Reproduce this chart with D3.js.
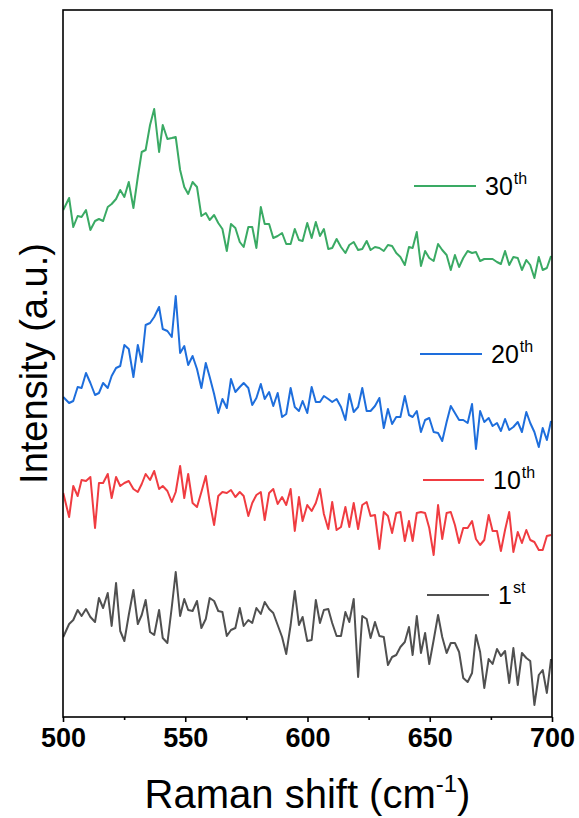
<!DOCTYPE html>
<html>
<head>
<meta charset="utf-8">
<script src="https://cdn.jsdelivr.net/npm/d3@7"></script>
<style>
  body { margin: 0; background: #fff; }
  svg { display: block; font-family: "Liberation Sans", Arial, sans-serif; }
</style>
</head>
<body>
<svg id="chart" width="579" height="818"></svg>
<script>
// Raman shift grid (cm-1), shared by all spectra
var ramanShift = [
  500.1, 502.5, 504.2, 506.0, 507.6, 509.4, 511.2, 513.1, 514.7, 516.4, 518.3, 519.9, 521.7, 523.4, 525.1, 526.9,
  528.8, 530.6, 532.2, 533.8, 535.6, 537.3, 539.3, 540.8, 542.7, 544.5, 546.1, 547.9, 549.6, 551.2, 553.0, 554.8,
  556.6, 558.4, 560.0, 561.8, 563.5, 565.2, 567.0, 568.7, 570.5, 572.3, 573.9, 575.8, 577.4, 579.1, 580.9, 582.5,
  584.3, 586.0, 587.8, 589.6, 591.3, 593.1, 594.8, 596.5, 598.0, 599.9, 601.7, 603.4, 605.1, 606.7, 608.5, 610.1,
  611.9, 613.7, 615.5, 617.1, 618.9, 620.7, 622.4, 624.2, 625.8, 627.6, 629.4, 631.2, 632.9, 634.6, 636.3, 638.0,
  639.8, 641.5, 643.0, 644.7, 646.4, 648.1, 649.8, 651.6, 653.4, 655.1, 656.9, 658.6, 660.3, 662.0, 663.7, 665.5,
  667.3, 668.9, 670.6, 672.3, 674.1, 675.7, 677.5, 679.1, 680.8, 682.5, 684.2, 686.0, 687.7, 689.5, 691.1, 692.8,
  694.6, 696.2, 697.9, 699.6
];

// intensities (a.u., curves already offset)
var cycle1 = [
  80, 93, 97, 107, 101, 108, 100, 95, 119, 109, 124, 91, 134, 86, 76, 102, 127, 93, 102, 117, 85, 82, 107, 79,
  74, 110, 145, 101, 118, 107, 106, 116, 89, 98, 119, 116, 106, 105, 81, 87, 89, 109, 91, 97, 94, 109, 103, 115,
  108, 104, 92, 80, 63, 92, 126, 92,
  100, 76, 77, 117, 94, 107, 108, 94, 81, 81, 105, 95, 118, 40, 101, 98, 79, 95, 81, 80, 52, 60, 62, 70, 75, 90,
  62, 101, 64, 84, 53, 77, 102, 80, 64, 74, 74, 65, 39, 35, 44, 82, 65, 29, 58, 53, 68, 61, 66, 34, 69, 32, 64,
  59, 56, 12, 42, 47, 24, 58
];
var cycle10 = [
  224, 200, 231, 221, 237, 236, 240, 189, 234, 234, 243, 219, 240, 231, 234, 236, 228, 225, 233, 243, 237, 246,
  228, 231, 226, 215, 225, 251, 219, 243, 214, 210, 225, 241, 215, 192, 221, 225, 224, 227, 220, 225, 221, 201,
  214, 222, 225, 197, 224, 228, 213, 220, 212, 228, 186, 220,
  196, 212, 206, 214, 228, 203, 188, 215, 187, 190, 210, 190, 214, 188, 212, 215, 201, 202, 168, 205, 201, 184,
  204, 205, 176, 196, 176, 204, 205, 204, 189, 162, 212, 178, 204, 205, 192, 174, 189, 189, 196, 178, 172, 177,
  202, 186, 186, 166, 187, 205, 165, 185, 174, 187, 177, 175, 167, 167, 181, 182
];
var cycle20 = [
  320, 314, 316, 330, 329, 344, 334, 322, 324, 334, 329, 341, 349, 351, 372, 368, 340, 372, 355, 392, 394, 400,
  410, 388, 386, 380, 421, 364, 371, 352, 361, 348, 329, 354, 340, 323, 304, 318, 309, 338, 325, 330, 334, 329,
  312, 319, 333, 318, 325, 311, 324, 300, 303, 329, 310, 306,
  316, 304, 330, 315, 315, 321, 318, 315, 318, 310, 297, 323, 305, 310, 329, 306, 306, 311, 319, 289, 308, 293,
  300, 300, 321, 302, 300, 306, 285, 297, 299, 285, 284, 276, 295, 311, 304, 297, 297, 294, 313, 268, 306, 295,
  299, 291, 294, 286, 298, 287, 290, 295, 285, 305, 294, 285, 270, 289, 277, 296
];
var cycle30 = [
  507, 519, 490, 501, 500, 507, 487, 496, 498, 496, 510, 513, 518, 527, 520, 535, 509, 540, 565, 567, 592, 608,
  565, 592, 578, 579, 580, 547, 530, 523, 535, 530, 501, 504, 497, 502, 494, 488, 466, 493, 489, 475, 470, 490,
  490, 469, 510, 493, 493, 479, 481, 484, 473, 473, 488, 477,
  476, 494, 479, 495, 481, 488, 468, 469, 478, 470, 464, 472, 475, 467, 468, 476, 467, 470, 469, 466, 472, 471,
  464, 460, 452, 470, 469, 485, 451, 466, 459, 456, 473, 467, 462, 447, 462, 450, 459, 466, 464, 465, 456, 458,
  458, 458, 455, 453, 466, 452, 460, 459, 447, 457, 452, 439, 460, 447, 449, 461
];

var seriesNames = ["1", "10", "20", "30"];
var seriesSup = ["st", "th", "th", "th"];
var seriesValues = [cycle1, cycle10, cycle20, cycle30];

var xTicks = [500, 550, 600, 650, 700];
var xMinorTicks = [525, 575, 625, 675];

var colors = ["#505050", "#f03c41", "#1e6edc", "#3aaa64"];
// legend entries sit next to each curve: [lineStart, lineEnd, y]
var legendPos = [[427, 489, 595], [423, 484, 480], [420, 482, 354], [414, 476, 186]];

var svg = d3.select("#chart"),
    margin = {top: 10, right: 27, bottom: 101, left: 63},
    width = +svg.attr("width") - margin.left - margin.right,
    height = +svg.attr("height") - margin.top - margin.bottom;

var x = d3.scaleLinear().domain([500, 700]).range([0, width]),
    y = d3.scaleLinear().domain([0, 707]).range([height, 0]);

var data = seriesNames.map(function(name, i) {
    return {
        id: name,
        sup: seriesSup[i],
        color: colors[i],
        values: ramanShift.map(function(s, j) { return {shift: s, value: seriesValues[i][j]}; })
    };
});

var line = d3.line()
    .x(function(d) { return x(d.shift); })
    .y(function(d) { return y(d.value); });

var g = svg.append("g")
    .attr("transform", "translate(" + margin.left + "," + margin.top + ")");

g.append("clipPath").attr("id", "plot-clip")
    .append("rect").attr("width", width).attr("height", height);

g.selectAll(".spectrum")
    .data(data)
    .enter().append("path")
    .attr("class", "spectrum")
    .attr("clip-path", "url(#plot-clip)")
    .attr("fill", "none")
    .attr("stroke-width", 2)
    .attr("stroke-linejoin", "round")
    .attr("stroke", function(d) { return d.color; })
    .attr("d", function(d) { return line(d.values); });

// frame
g.append("rect")
    .attr("width", width)
    .attr("height", height)
    .attr("fill", "none")
    .attr("stroke", "#000")
    .attr("stroke-width", 1.6);

var xAxis = g.append("g")
    .attr("class", "axis axis--x")
    .attr("transform", "translate(0," + height + ")")
    .call(d3.axisBottom(x).tickValues(xTicks).tickSize(5).tickSizeOuter(0).tickPadding(6));

xAxis.select(".domain").remove();
xAxis.selectAll("line").attr("stroke", "#000").attr("stroke-width", 1.6);
xAxis.selectAll("text")
    .attr("fill", "#000")
    .style("font-size", "27px")
    .style("font-weight", "bold")
    .style("font-family", "'Liberation Sans', Arial, sans-serif");

g.append("g")
    .attr("transform", "translate(0," + height + ")")
    .call(d3.axisBottom(x).tickValues(xMinorTicks).tickSize(3).tickFormat(""))
    .call(function(a) { a.select(".domain").remove(); })
    .selectAll("line").attr("stroke", "#000").attr("stroke-width", 1.6);

// axis titles
var xTitle = svg.append("text")
    .attr("x", margin.left + width / 2)
    .attr("y", 808)
    .attr("text-anchor", "middle")
    .style("font-size", "40px")
    .attr("fill", "#000");
xTitle.append("tspan").text("Raman shift (cm");
xTitle.append("tspan").attr("dy", -16).style("font-size", "24px").text("-1");
xTitle.append("tspan").attr("dy", 16).text(")");

svg.append("text")
    .attr("transform", "translate(47," + (margin.top + height / 2) + ") rotate(-90)")
    .attr("text-anchor", "middle")
    .style("font-size", "38px")
    .attr("fill", "#000")
    .text("Intensity (a.u.)");

// legend
var legend = svg.append("g").attr("class", "legend");

legend.selectAll("line")
    .data(data)
    .enter().append("line")
    .attr("x1", function(d, i) { return legendPos[i][0]; })
    .attr("x2", function(d, i) { return legendPos[i][1]; })
    .attr("y1", function(d, i) { return legendPos[i][2]; })
    .attr("y2", function(d, i) { return legendPos[i][2]; })
    .attr("stroke", function(d) { return d.color; })
    .attr("stroke-width", 2);

var labels = legend.selectAll("text")
    .data(data)
    .enter().append("text")
    .attr("x", function(d, i) { return legendPos[i][1] + 9; })
    .attr("y", function(d, i) { return legendPos[i][2] + 9; })
    .style("font-size", "25px")
    .attr("fill", "#000");

labels.append("tspan").text(function(d) { return d.id; });
labels.append("tspan")
    .attr("dx", 1)
    .attr("dy", -11)
    .style("font-size", "16px")
    .text(function(d) { return d.sup; });
</script>
</body>
</html>
